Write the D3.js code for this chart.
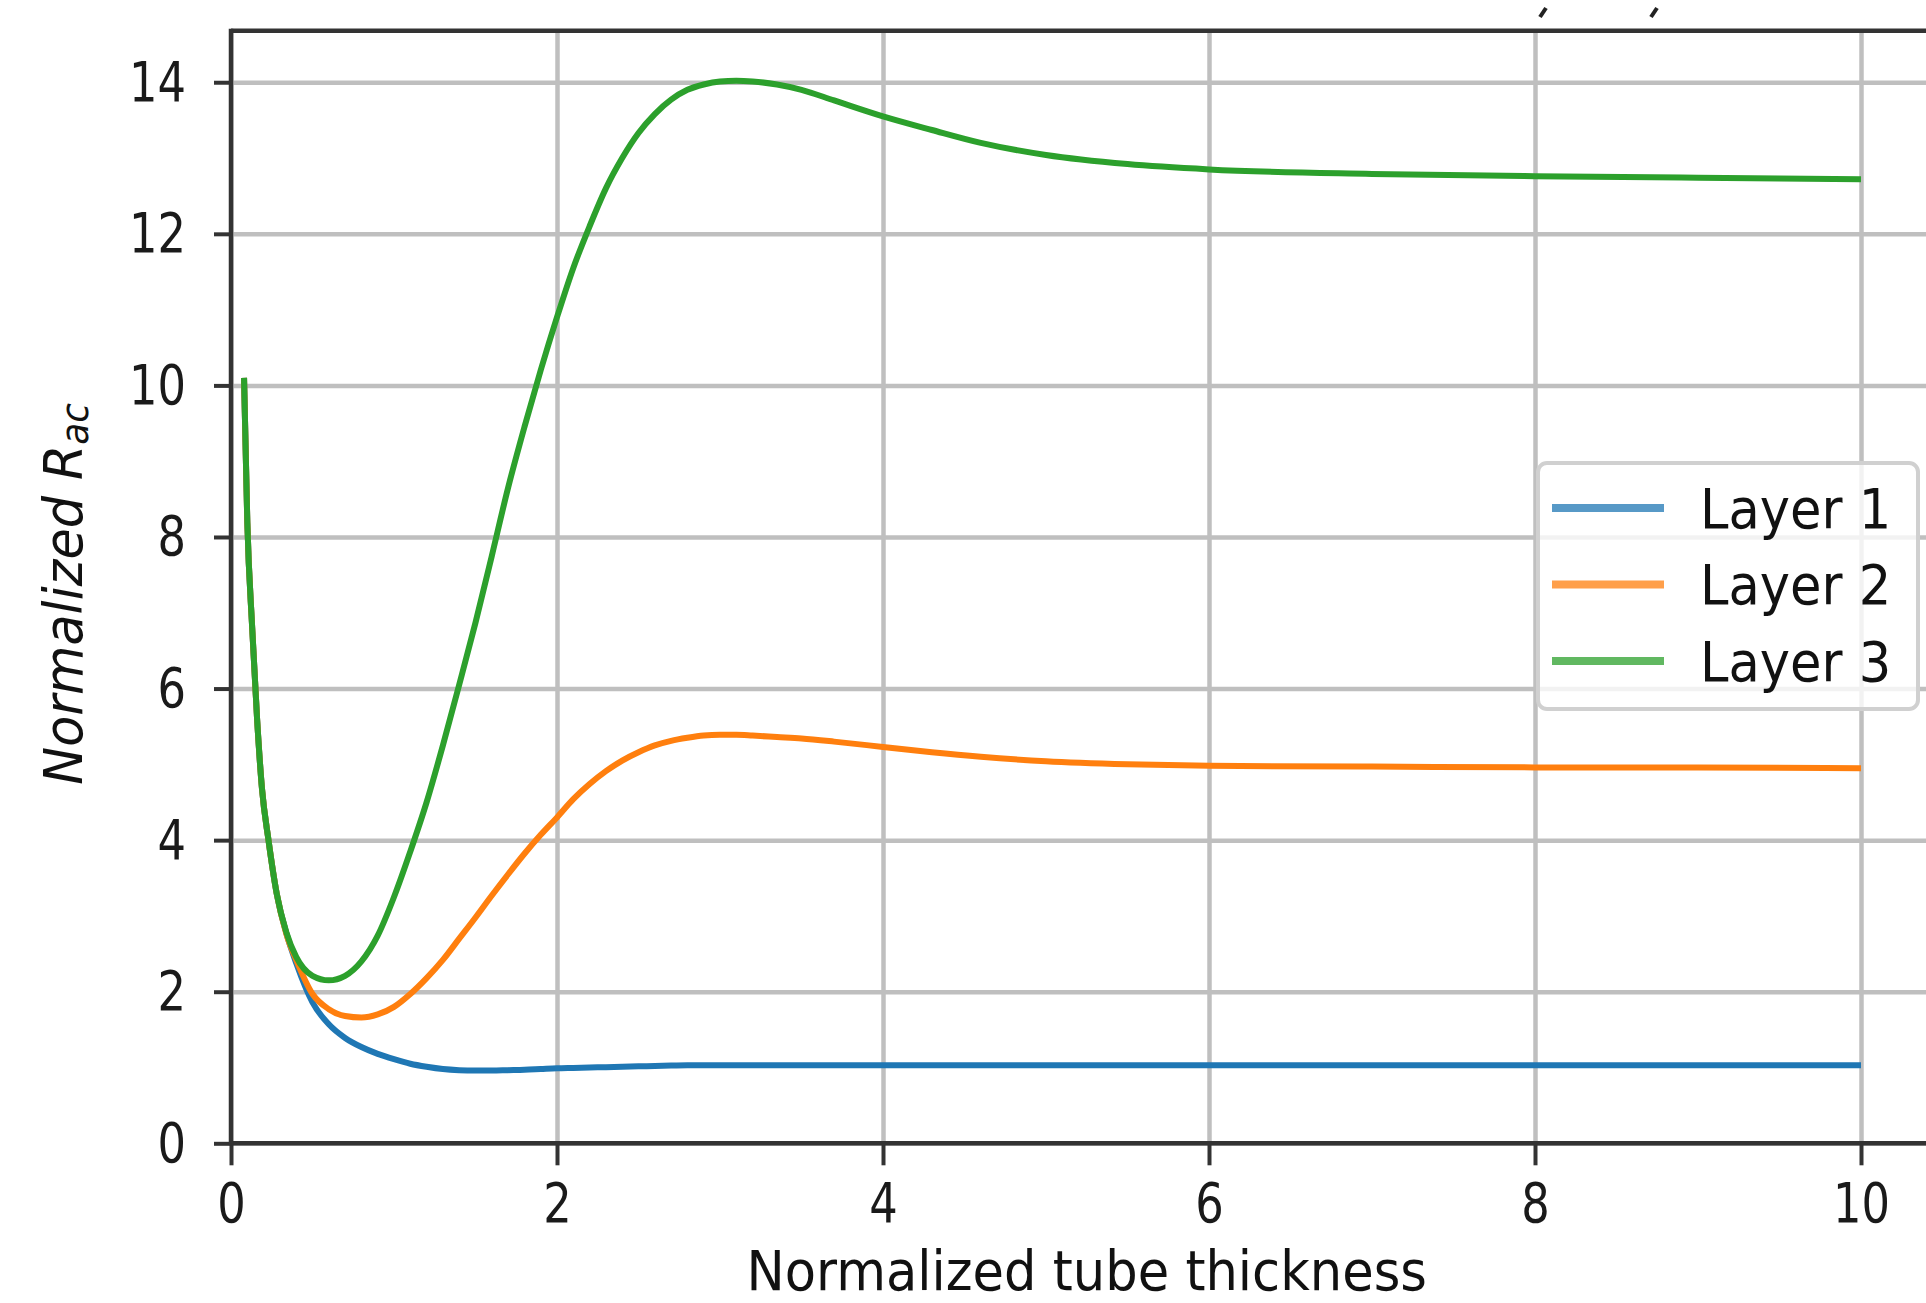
<!DOCTYPE html>
<html lang="en">
<head>
<meta charset="utf-8">
<title>Normalized Rac vs normalized tube thickness</title>
<style>
  body { margin: 0; background: #fff; }
  svg { display: block; font-family: "DejaVu Sans", sans-serif; }
  .tick text { font-size: 56px; fill: #1a1a1a; transform-box: fill-box; }
  .x-axis .tick text { transform-origin: center; transform: scaleX(0.8); }
  .y-axis .tick text { transform-origin: right center; transform: scaleX(0.8); }
  .tick line { stroke: #333; stroke-width: 4; }
  .grid line { stroke: #bfbfbf; stroke-width: 4.5; }
  .grid .domain { display: none; }
  .legend text { font-size: 55px; fill: #111; transform-box: fill-box; transform-origin: left center; transform: scaleX(0.93); }
  .xlabel { font-size: 55px; fill: #111; transform-box: fill-box; transform-origin: center; transform: scaleX(0.93); }
</style>
<script src="https://d3js.org/d3.v7.min.js"></script>
</head>
<body>
<script>
  // values
  const xVals = [0.08, 0.1, 0.13, 0.16, 0.19, 0.23, 0.28, 0.34, 0.4, 0.5, 0.6, 0.7, 0.8, 0.9,
                 1.0, 1.1, 1.2, 1.3, 1.4, 1.5, 1.6, 1.7, 1.8, 1.9, 2.0, 2.1, 2.2, 2.3, 2.4, 2.5,
                 2.6, 2.7, 2.8, 2.9, 3.0, 3.1, 3.2, 3.35, 3.5, 3.7, 4.0, 4.3, 4.6, 5.0, 5.5, 6.0,
                 7.0, 8.0, 9.0, 10.0]
  const layer1 = [10.1, 8.2, 6.8, 5.6, 4.68, 4.0, 3.3, 2.77, 2.38, 1.86, 1.57, 1.39, 1.27, 1.18,
                  1.11, 1.05, 1.01, 0.98, 0.965, 0.96, 0.96, 0.965, 0.97, 0.98, 0.99, 0.995, 1.0, 1.005, 1.01, 1.015,
                  1.02, 1.025, 1.03, 1.03, 1.03, 1.03, 1.03, 1.03, 1.03, 1.03, 1.03, 1.03, 1.03, 1.03, 1.03, 1.03,
                  1.03, 1.03, 1.03, 1.03]
  const layer2 = [10.1, 8.2, 6.8, 5.6, 4.68, 4.0, 3.3, 2.76, 2.42, 1.97, 1.77, 1.68, 1.66, 1.7,
                  1.8, 1.97, 2.18, 2.42, 2.7, 2.98, 3.27, 3.55, 3.82, 4.07, 4.3, 4.54, 4.74, 4.91, 5.05, 5.16,
                  5.25, 5.31, 5.35, 5.38, 5.39, 5.39, 5.38, 5.36, 5.34, 5.3, 5.23, 5.16, 5.1, 5.04, 5.0, 4.98,
                  4.97, 4.96, 4.96, 4.95]
  const layer3 = [10.1, 8.2, 6.8, 5.6, 4.68, 4.0, 3.3, 2.78, 2.46, 2.21, 2.15, 2.21, 2.4, 2.74,
                  3.25, 3.85, 4.5, 5.25, 6.05, 6.87, 7.75, 8.65, 9.45, 10.2, 10.9, 11.55, 12.1, 12.6, 13.0, 13.33,
                  13.58, 13.77, 13.9, 13.97, 14.01, 14.02, 14.01, 13.97, 13.9, 13.76, 13.55, 13.37, 13.2, 13.04, 12.92, 12.85,
                  12.79, 12.76, 12.74, 12.72]
  const seriesNames = ["Layer 1", "Layer 2", "Layer 3"]
  const seriesColors = ["#1f77b4", "#ff7f0e", "#2ca02c"]
  const xTicks = [0, 2, 4, 6, 8, 10]
  const yTicks = [0, 2, 4, 6, 8, 10, 12, 14]

  let width = 1926
  let height = 1303
  let plotLeft = 231, plotRight = 1942.5, plotTop = 30.7, plotBottom = 1143.3

  let svg = d3.select("body").append("svg")
      .attr("width", width)
      .attr("height", height)

  let xScale = d3.scaleLinear().domain([0, 10.5]).range([plotLeft, plotRight])
  let yScale = d3.scaleLinear().domain([0, 14.68]).range([plotBottom, plotTop])

  // grid
  svg.append("g")
      .attr("class", "grid")
      .attr("transform", `translate(0,${plotBottom})`)
      .call(d3.axisBottom(xScale).tickValues(xTicks).tickSize(-(plotBottom - plotTop)).tickFormat(""))
  svg.append("g")
      .attr("class", "grid")
      .attr("transform", `translate(${plotLeft},0)`)
      .call(d3.axisLeft(yScale).tickValues(yTicks).tickSize(-(plotRight - plotLeft)).tickFormat(""))

  // lines
  let series = [layer1, layer2, layer3]
  let line = d3.line()
      .x((d, i) => xScale(xVals[i]))
      .y(d => yScale(d))
      .curve(d3.curveMonotoneX)

  series.forEach((vals, k) => {
    svg.append("path")
        .datum(vals)
        .attr("fill", "none")
        .attr("stroke", seriesColors[k])
        .attr("stroke-width", 6)
        .attr("stroke-linejoin", "round")
        .attr("d", line)
  })

  // axes
  let xAxis = svg.append("g")
      .attr("class", "x-axis")
      .attr("transform", `translate(0,${plotBottom})`)
      .call(d3.axisBottom(xScale).tickValues(xTicks).tickSize(22).tickPadding(17))
  let yAxis = svg.append("g")
      .attr("class", "y-axis")
      .attr("transform", `translate(${plotLeft},0)`)
      .call(d3.axisLeft(yScale).tickValues(yTicks).tickSize(17).tickPadding(28))
  xAxis.select(".domain").remove()
  yAxis.select(".domain").remove()
  xAxis.attr("font-family", null).attr("font-size", null)
  yAxis.attr("font-family", null).attr("font-size", null)

  // spines
  let spines = svg.append("g").attr("stroke", "#333").attr("stroke-width", 4.5)
  spines.append("line").attr("x1", plotLeft).attr("x2", plotRight).attr("y1", plotTop).attr("y2", plotTop)
  spines.append("line").attr("x1", plotLeft).attr("x2", plotRight).attr("y1", plotBottom).attr("y2", plotBottom)
  spines.append("line").attr("x1", plotLeft).attr("x2", plotLeft).attr("y1", plotTop - 2).attr("y2", plotBottom + 2)

  // two tiny slanted marks above the frame (left over from a cropped title)
  ;[1542, 1653].forEach(mx => {
    svg.append("line")
        .attr("x1", mx + 4).attr("y1", 8)
        .attr("x2", mx - 2).attr("y2", 17)
        .attr("stroke", "#222").attr("stroke-width", 4)
  })

  // axis labels
  svg.append("text")
      .attr("class", "xlabel")
      .attr("x", (plotLeft + plotRight) / 2)
      .attr("y", 1290)
      .attr("text-anchor", "middle")
      .text("Normalized tube thickness")

  let ylab = svg.append("text")
      .attr("transform", "translate(82,594) rotate(-90) scale(0.94,1)")
      .attr("text-anchor", "middle")
      .attr("font-size", 54)
      .attr("font-style", "italic")
      .attr("fill", "#111")
  ylab.append("tspan").text("Normalized R")
  ylab.append("tspan").attr("font-size", 38).attr("dy", 6).text("ac")

  // legend
  let legend = svg.append("g").attr("class", "legend")
  legend.append("rect")
      .attr("x", 1538).attr("y", 463)
      .attr("width", 380).attr("height", 246)
      .attr("rx", 9)
      .attr("fill", "#fff").attr("fill-opacity", 0.8)
      .attr("stroke", "#d0d0d0").attr("stroke-width", 4)
  seriesNames.forEach((name, k) => {
    let cy = 508 + k * 76.5
    legend.append("line")
        .attr("x1", 1552).attr("x2", 1664)
        .attr("y1", cy).attr("y2", cy)
        .attr("stroke", seriesColors[k])
        .attr("stroke-opacity", 0.75)
        .attr("stroke-width", 8)
    legend.append("text")
        .attr("x", 1700)
        .attr("y", cy + 20)
        .text(name)
  })
</script>
</body>
</html>
